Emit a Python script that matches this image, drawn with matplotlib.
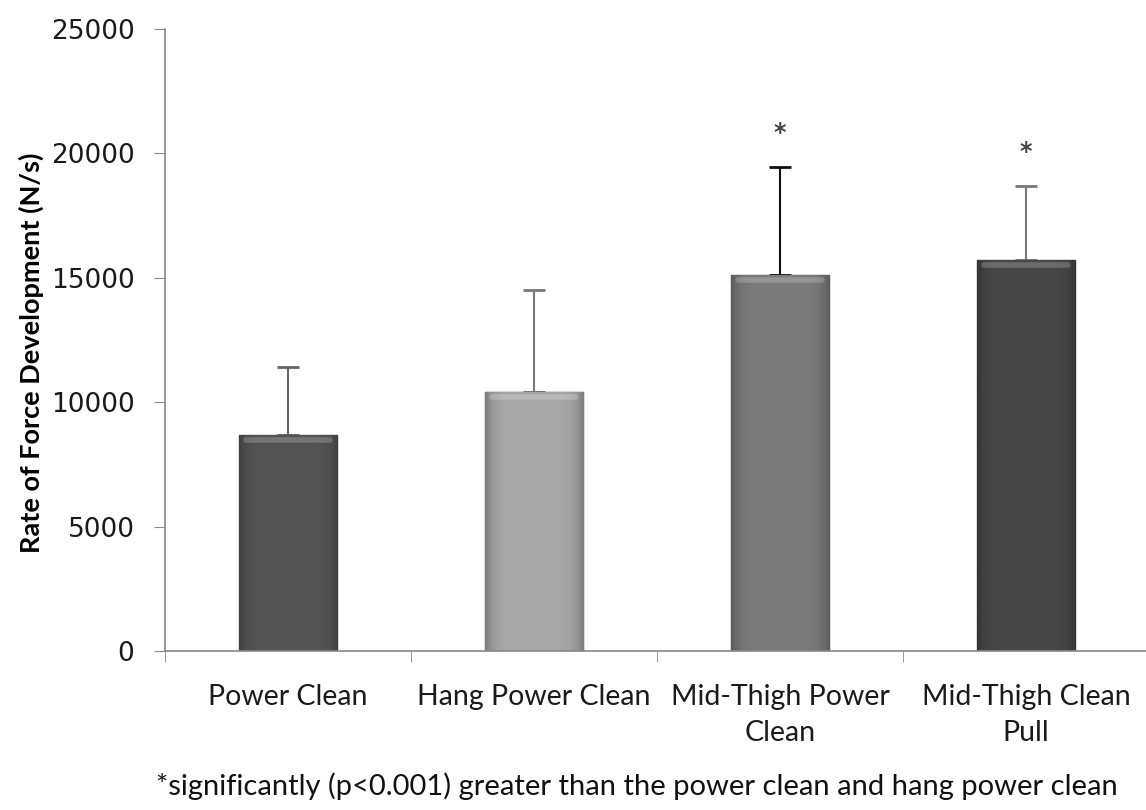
import matplotlib.pyplot as plt
import numpy as np

categories = ['Power Clean', 'Hang Power Clean', 'Mid-Thigh Power\nClean', 'Mid-Thigh Clean\nPull']
rfd_mean = [8700, 10400, 15100, 15700]
rfd_sd = [2700, 4100, 4350, 3000]
significant = [False, False, True, True]
bar_colors = ['#555555', '#a8a8a8', '#7b7b7b', '#484848']
err_colors = ['#666666', '#777777', '#111111', '#777777']

fig = plt.figure(figsize=(11.46, 8.10), dpi=100)
ax = fig.add_axes([0.144, 0.1963, 0.8586, 0.7679])

x = np.arange(len(categories))
bars = ax.bar(x, rfd_mean, width=0.4, color=bar_colors, edgecolor='#3a3a3a',
              linewidth=1.0, zorder=2)

# fake the excel bevel: darker at the sides, soft light strip on top
for b, c in zip(bars, bar_colors):
    base = np.array(plt.matplotlib.colors.to_rgb(c))
    xs = np.linspace(-1, 1, 60)
    shade = 1 - 0.25 * np.abs(xs) ** 6
    img = (base[None, None, :] * shade[None, :, None]).clip(0, 1)
    img = np.repeat(img, 2, axis=0)
    im = ax.imshow(img, extent=(b.get_x(), b.get_x() + b.get_width(), 0, b.get_height()),
                   aspect='auto', zorder=2.5, interpolation='bilinear')
    im.set_clip_path(b)
    ax.plot([b.get_x() + 0.03, b.get_x() + b.get_width() - 0.03],
            [b.get_height() - 200, b.get_height() - 200],
            color='white', alpha=0.2, lw=4, zorder=3, solid_capstyle='round')

for i in range(len(categories)):
    ax.errorbar(x[i], rfd_mean[i], yerr=[[0], [rfd_sd[i]]], fmt='none',
                ecolor=err_colors[i], elinewidth=1.5, capsize=8, capthick=2, zorder=1)
    if significant[i]:
        ax.text(x[i], rfd_mean[i] + rfd_sd[i] + 1350, '*', ha='center', va='center',
                fontsize=17, fontweight='bold', color='#444444')

ax.set_xlim(-0.5, len(categories) - 0.5)
ax.set_ylim(0, 25000)
ax.set_yticks(range(0, 25001, 5000))
ax.tick_params(axis='y', labelsize=19, length=8, color='#888888', labelcolor='#1a1a1a', pad=14)
ax.set_xticks(x)
ax.set_xticklabels(categories, fontsize=20.5, family='Lato', color='#1a1a1a', linespacing=1.45)
ax.set_xticks(np.arange(-0.5, len(categories)), minor=True)
ax.tick_params(axis='x', which='major', length=0, pad=24)
ax.tick_params(axis='x', which='minor', length=8, color='#888888')

for s in ['top', 'right']:
    ax.spines[s].set_visible(False)
for s in ['left', 'bottom']:
    ax.spines[s].set_color('#888888')
    ax.spines[s].set_linewidth(1.2)

ax.set_ylabel('Rate of Force Development (N/s)', fontsize=19.5, fontweight='bold',
              family='Lato')
ax.yaxis.set_label_coords(-0.123, 0.48)
fig.text(0.556, 0.03, '*significantly (p<0.001) greater than the power clean and hang power clean',
         ha='center', va='center', fontsize=21, family='Lato', color='#111111')

plt.savefig('out.png', dpi=100)
